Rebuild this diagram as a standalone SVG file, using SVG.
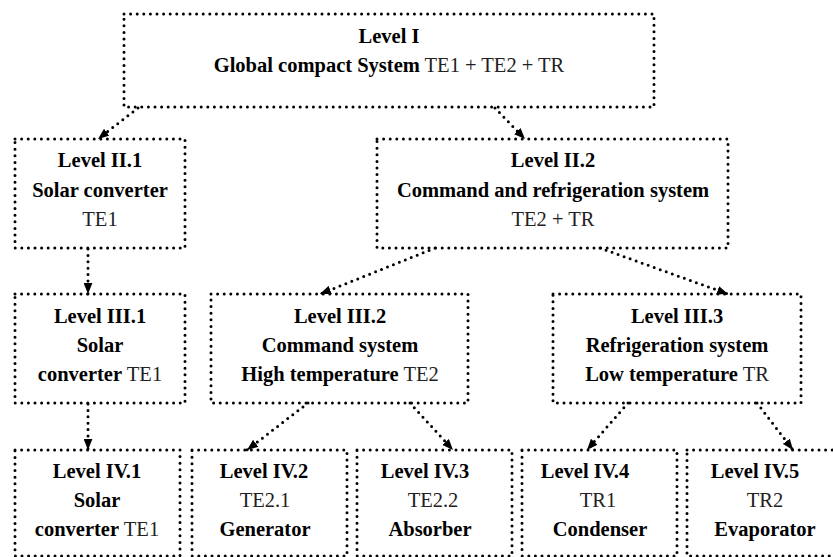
<svg xmlns="http://www.w3.org/2000/svg" width="833" height="557" viewBox="0 0 833 557">
<defs>
<style>
.box{fill:none;stroke:#000;stroke-width:3;stroke-linecap:round;stroke-dasharray:0 6.6}
.con{fill:none;stroke:#000;stroke-width:3;stroke-linecap:round;stroke-dasharray:0 6.4}
.b{font-weight:bold}
.n{font-weight:normal;fill:#222}
</style>
<marker id="ah" viewBox="0 0 10 8" markerWidth="11" markerHeight="9" refX="10" refY="4" orient="auto" markerUnits="userSpaceOnUse">
<path d="M0,0 L10,4 L0,8 z" fill="#000"/>
</marker>
</defs>
<rect width="833" height="557" fill="#fff"/>
<g id="connectors">
<line class="con" x1="138" y1="108" x2="98" y2="139" marker-end="url(#ah)"/>
<line class="con" x1="495" y1="108" x2="525" y2="139" marker-end="url(#ah)"/>
<line class="con" x1="88" y1="249" x2="88" y2="294" marker-end="url(#ah)"/>
<line class="con" x1="435" y1="248" x2="320" y2="294" marker-end="url(#ah)"/>
<line class="con" x1="600" y1="248" x2="728" y2="294" marker-end="url(#ah)"/>
<line class="con" x1="88" y1="404" x2="88" y2="450" marker-end="url(#ah)"/>
<line class="con" x1="308" y1="403" x2="247" y2="450" marker-end="url(#ah)"/>
<line class="con" x1="410" y1="403" x2="453" y2="450" marker-end="url(#ah)"/>
<line class="con" x1="628" y1="403" x2="587" y2="450" marker-end="url(#ah)"/>
<line class="con" x1="757" y1="403" x2="793" y2="450" marker-end="url(#ah)"/>
</g>
<g font-family="Liberation Serif, Times New Roman, Times, serif" font-size="20.5" text-anchor="middle" fill="#000">
<g id="level-1">
<rect class="box" x="124" y="14" width="530" height="93"/>
<text class="b" x="389" y="43">Level I</text>
<text x="389" y="72"><tspan class="b">Global compact System</tspan><tspan class="n"> TE1 + TE2 + TR</tspan></text>
</g>
<g id="level-2-1">
<rect class="box" x="15" y="139" width="170" height="109"/>
<text class="b" x="100" y="167">Level II.1</text>
<text class="b" x="100" y="197">Solar converter</text>
<text class="n" x="100" y="226">TE1</text>
</g>
<g id="level-2-2">
<rect class="box" x="377" y="139" width="351" height="109"/>
<text class="b" x="553" y="167">Level II.2</text>
<text class="b" x="553" y="197">Command and refrigeration system</text>
<text class="n" x="553" y="226">TE2 + TR</text>
</g>
<g id="level-3-1">
<rect class="box" x="15" y="294" width="170" height="109"/>
<text class="b" x="100" y="323">Level III.1</text>
<text class="b" x="100" y="352">Solar</text>
<text x="100" y="381"><tspan class="b">converter</tspan><tspan class="n"> TE1</tspan></text>
</g>
<g id="level-3-2">
<rect class="box" x="211" y="294" width="257" height="109"/>
<text class="b" x="340" y="323">Level III.2</text>
<text class="b" x="340" y="352">Command system</text>
<text x="340" y="381"><tspan class="b">High temperature</tspan><tspan class="n"> TE2</tspan></text>
</g>
<g id="level-3-3">
<rect class="box" x="553" y="294" width="248" height="109"/>
<text class="b" x="677" y="323">Level III.3</text>
<text class="b" x="677" y="352">Refrigeration system</text>
<text x="677" y="381"><tspan class="b">Low temperature</tspan><tspan class="n"> TR</tspan></text>
</g>
<g id="level-4-1">
<rect class="box" x="15" y="450" width="165" height="106"/>
<text class="b" x="97" y="478">Level IV.1</text>
<text class="b" x="97" y="507">Solar</text>
<text x="97" y="536"><tspan class="b">converter</tspan><tspan class="n"> TE1</tspan></text>
</g>
<g id="level-4-2">
<rect class="box" x="192" y="450" width="155" height="106"/>
<text class="b" x="264" y="478">Level IV.2</text>
<text class="n" x="265" y="507">TE2.1</text>
<text class="b" x="265" y="536">Generator</text>
</g>
<g id="level-4-3">
<rect class="box" x="357" y="450" width="155" height="106"/>
<text class="b" x="425" y="478">Level IV.3</text>
<text class="n" x="433" y="507">TE2.2</text>
<text class="b" x="430" y="536">Absorber</text>
</g>
<g id="level-4-4">
<rect class="box" x="522" y="450" width="155" height="106"/>
<text class="b" x="585" y="478">Level IV.4</text>
<text class="n" x="598" y="507">TR1</text>
<text class="b" x="600" y="536">Condenser</text>
</g>
<g id="level-4-5">
<rect class="box" x="687" y="450" width="160" height="106"/>
<text class="b" x="755" y="478">Level IV.5</text>
<text class="n" x="765" y="507">TR2</text>
<text class="b" x="765" y="536">Evaporator</text>
</g>
</g>
</svg>
